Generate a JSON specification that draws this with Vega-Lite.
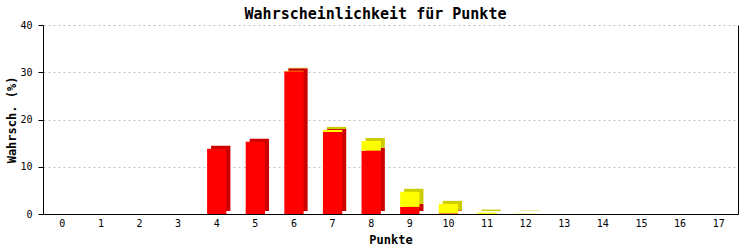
{
  "$schema": "https://vega.github.io/schema/vega-lite/v6.json",
  "width": 695,
  "height": 189,
  "autosize": {"type": "none"},
  "padding": {"left": 43, "top": 25, "right": 15, "bottom": 36},
  "background": "white",
  "title": {
    "text": "Wahrscheinlichkeit für Punkte",
    "font": "DejaVu Sans Mono",
    "fontSize": 15,
    "fontWeight": "bold",
    "color": "black",
    "anchor": "middle",
    "dx": -15,
    "offset": -2
  },
  "data": {
    "values": [
      {"punkte": "0", "serie": "A", "wert": 0}, {"punkte": "0", "serie": "B", "wert": 0},
      {"punkte": "1", "serie": "A", "wert": 0}, {"punkte": "1", "serie": "B", "wert": 0},
      {"punkte": "2", "serie": "A", "wert": 0}, {"punkte": "2", "serie": "B", "wert": 0},
      {"punkte": "3", "serie": "A", "wert": 0}, {"punkte": "3", "serie": "B", "wert": 0},
      {"punkte": "4", "serie": "A", "wert": 13.8}, {"punkte": "4", "serie": "B", "wert": 0},
      {"punkte": "5", "serie": "A", "wert": 15.3}, {"punkte": "5", "serie": "B", "wert": 0},
      {"punkte": "6", "serie": "A", "wert": 30.2}, {"punkte": "6", "serie": "B", "wert": 0.1},
      {"punkte": "7", "serie": "A", "wert": 17.35}, {"punkte": "7", "serie": "B", "wert": 0.45},
      {"punkte": "8", "serie": "A", "wert": 13.4}, {"punkte": "8", "serie": "B", "wert": 2.05},
      {"punkte": "9", "serie": "A", "wert": 1.5}, {"punkte": "9", "serie": "B", "wert": 3.2},
      {"punkte": "10", "serie": "A", "wert": 0.15}, {"punkte": "10", "serie": "B", "wert": 2.0},
      {"punkte": "11", "serie": "A", "wert": 0}, {"punkte": "11", "serie": "B", "wert": 0.3},
      {"punkte": "12", "serie": "A", "wert": 0}, {"punkte": "12", "serie": "B", "wert": 0.08},
      {"punkte": "13", "serie": "A", "wert": 0}, {"punkte": "13", "serie": "B", "wert": 0},
      {"punkte": "14", "serie": "A", "wert": 0}, {"punkte": "14", "serie": "B", "wert": 0},
      {"punkte": "15", "serie": "A", "wert": 0}, {"punkte": "15", "serie": "B", "wert": 0},
      {"punkte": "16", "serie": "A", "wert": 0}, {"punkte": "16", "serie": "B", "wert": 0},
      {"punkte": "17", "serie": "A", "wert": 0}, {"punkte": "17", "serie": "B", "wert": 0}
    ]
  },
  "layer": [
    {
      "mark": {"type": "bar", "xOffset": 4, "yOffset": -3, "cornerRadius": 0},
      "encoding": {
        "x": {
          "field": "punkte", "type": "ordinal",
          "sort": ["0","1","2","3","4","5","6","7","8","9","10","11","12","13","14","15","16","17"],
          "scale": {"paddingInner": 0.5, "paddingOuter": 0.25},
          "axis": {
            "title": "Punkte",
            "titleFont": "DejaVu Sans Mono", "titleFontSize": 12, "titleFontWeight": "bold", "titleColor": "black",
            "titlePadding": 6,
            "labelFont": "DejaVu Sans Mono", "labelFontSize": 10, "labelColor": "black", "labelAngle": 0,
            "labelPadding": 4,
            "ticks": false,
            "domainColor": "black", "domainWidth": 1
          }
        },
        "y": {
          "field": "wert", "type": "quantitative", "stack": "zero",
          "scale": {"domain": [0, 40], "nice": false},
          "axis": {"orient": "right", "labels": false, "ticks": false, "grid": false, "title": null, "domain": true, "domainColor": "black", "domainWidth": 1}
        },
        "color": {
          "field": "serie", "type": "nominal",
          "scale": {"domain": ["A", "B"], "range": ["#cc0000", "#cccc00"]},
          "legend": null
        },
        "order": {"field": "serie", "sort": "ascending"}
      }
    },
    {
      "mark": {"type": "bar"},
      "encoding": {
        "x": {
          "field": "punkte", "type": "ordinal",
          "sort": ["0","1","2","3","4","5","6","7","8","9","10","11","12","13","14","15","16","17"],
          "scale": {"paddingInner": 0.5, "paddingOuter": 0.25},
          "axis": {
            "title": "Punkte",
            "titleFont": "DejaVu Sans Mono", "titleFontSize": 12, "titleFontWeight": "bold", "titleColor": "black",
            "titlePadding": 6,
            "labelFont": "DejaVu Sans Mono", "labelFontSize": 10, "labelColor": "black", "labelAngle": 0,
            "labelPadding": 4,
            "ticks": false,
            "domainColor": "black", "domainWidth": 1
          }
        },
        "y": {
          "field": "wert", "type": "quantitative", "stack": "zero",
          "scale": {"domain": [0, 40], "nice": false},
          "axis": {
            "title": "Wahrsch. (%)",
            "titleFont": "DejaVu Sans Mono", "titleFontSize": 12, "titleFontWeight": "bold", "titleColor": "black",
            "titlePadding": 1,
            "values": [0, 10, 20, 30, 40],
            "labelFont": "DejaVu Sans Mono", "labelFontSize": 10, "labelColor": "black",
            "labelPadding": 6,
            "tickSize": 5, "tickColor": "black",
            "domainColor": "black", "domainWidth": 1,
            "grid": true, "gridColor": "#c0c0c0", "gridDash": [2, 3], "gridWidth": 1
          }
        },
        "color": {
          "field": "serie", "type": "nominal",
          "scale": {"domain": ["A", "B"], "range": ["#ff0000", "#ffff00"]},
          "legend": null
        },
        "order": {"field": "serie", "sort": "ascending"}
      }
    }
  ],
  "resolve": {"scale": {"color": "independent"}, "axis": {"y": "independent"}},
  "config": {"view": {"stroke": null}}
}
